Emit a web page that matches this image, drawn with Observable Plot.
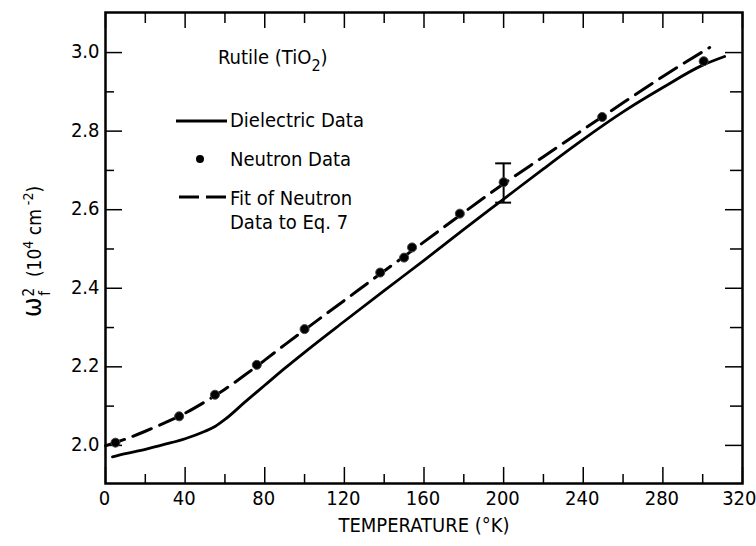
<!DOCTYPE html>
<html><head><meta charset="utf-8">
<script src="https://cdn.jsdelivr.net/npm/d3@7"></script>
<script src="https://cdn.jsdelivr.net/npm/@observablehq/plot@0.6"></script>
<style>
body{margin:0;background:#fff;}
</style></head><body><div id="chart"></div>
<script>
const FONT = '"Liberation Sans Narrow","DejaVu Sans Condensed",sans-serif';

// Dielectric data (solid curve)
const dielectricT = [3.5, 10, 20, 30, 40, 50, 55, 60, 70, 80, 90, 100, 120, 140, 160, 180, 200, 220, 240, 260, 280, 300, 311];
const dielectricW = [1.971, 1.979, 1.990, 2.003, 2.017, 2.036, 2.048, 2.066, 2.110, 2.153, 2.196, 2.237, 2.316, 2.394, 2.471, 2.550, 2.627, 2.704, 2.779, 2.849, 2.911, 2.968, 2.99];

// Neutron data (points)
const neutronT = [5, 37, 55, 76, 100, 138, 150, 154, 178, 200, 249.5, 300.5];
const neutronW = [2.007, 2.074, 2.129, 2.205, 2.296, 2.440, 2.478, 2.504, 2.590, 2.670, 2.836, 2.978];

// Fit of neutron data to Eq. 7 (dashed curve)
const fitT = [0, 10, 20, 30, 40, 50, 60, 70, 80, 90, 100, 120, 140, 160, 180, 200, 220, 240, 260, 280, 303.5];
const fitW = [1.999, 2.016, 2.036, 2.058, 2.082, 2.111, 2.143, 2.179, 2.217, 2.256, 2.294, 2.369, 2.444, 2.518, 2.593, 2.666, 2.735, 2.804, 2.872, 2.939, 3.013];

// Error bar
const errT = [200];
const errLow = [2.618];
const errHigh = [2.718];

// Ticks
const xMajorTicks = [0, 40, 80, 120, 160, 200, 240, 280, 320];
const xMinorTicks = [20, 60, 100, 140, 180, 220, 260, 300];
const yMajorTicks = [2.0, 2.2, 2.4, 2.6, 2.8, 3.0];
const yMinorTicks = [2.1, 2.3, 2.5, 2.7, 2.9];

const xLabel = "TEMPERATURE (°K)";
const legendItems = ["Dielectric Data", "Neutron Data", "Fit of Neutron", "Data to Eq. 7"];

const W = 756, H = 546, mt = 12, mb = 63, ml = 105, mr = 14;
const fw = W - ml - mr, fh = H - mt - mb;

const dielectric = dielectricT.map((t, i) => ({t, w: dielectricW[i]}));
const neutron = neutronT.map((t, i) => ({t, w: neutronW[i]}));
const fit = fitT.map((t, i) => ({t, w: fitW[i]}));
const err = errT.map((t, i) => ({t, lo: errLow[i], hi: errHigh[i]}));

const chart = Plot.plot({
  width: W, height: H,
  marginTop: mt, marginBottom: mb, marginLeft: ml, marginRight: mr,
  style: {fontFamily: FONT, fontSize: "20px", background: "white", color: "black"},
  x: {domain: [0, 320]},
  y: {domain: [1.903, 3.102]},
  marks: [
    Plot.axisX(xMajorTicks.slice(0, -1), {tickSize: 0, tickPadding: 7, label: null, fontSize: 20, dx: -1}),
    Plot.axisX(xMajorTicks.slice(-1), {tickSize: 0, tickPadding: 7, label: null, fontSize: 20, textAnchor: "end", dx: 14}),
    Plot.axisY({ticks: yMajorTicks, tickSize: 0, tickPadding: 6, label: null, tickFormat: d3.format(".1f"), fontSize: 20, dy: -1}),
    Plot.tickX(xMajorTicks, {x: d => d, insetTop: fh - 16, stroke: "black", strokeWidth: 1.5}),
    Plot.tickX(xMinorTicks, {x: d => d, insetTop: fh - 9, stroke: "black", strokeWidth: 1.5}),
    Plot.tickX(xMajorTicks, {x: d => d, insetBottom: fh - 16, stroke: "black", strokeWidth: 1.5}),
    Plot.tickX(xMinorTicks, {x: d => d, insetBottom: fh - 11, stroke: "black", strokeWidth: 1.5}),
    Plot.tickY(yMajorTicks, {y: d => d, insetRight: fw - 17, stroke: "black", strokeWidth: 1.5}),
    Plot.tickY(yMinorTicks, {y: d => d, insetRight: fw - 9, stroke: "black", strokeWidth: 1.5}),
    Plot.tickY(yMajorTicks, {y: d => d, insetLeft: fw - 17, stroke: "black", strokeWidth: 1.5}),
    Plot.tickY(yMinorTicks, {y: d => d, insetLeft: fw - 12, stroke: "black", strokeWidth: 1.5}),
    Plot.line(dielectric, {x: "t", y: "w", stroke: "black", strokeWidth: 2.8, curve: "monotone-x"}),
    Plot.line(fit, {x: "t", y: "w", stroke: "black", strokeWidth: 3, strokeDasharray: "20,9", curve: "monotone-x"}),
    Plot.ruleX(err, {x: "t", y1: "lo", y2: "hi", stroke: "black", strokeWidth: 2}),
    Plot.ruleY(err, {y: "lo", x1: d => d.t - 4, x2: d => d.t + 4, stroke: "black", strokeWidth: 2}),
    Plot.ruleY(err, {y: "hi", x1: d => d.t - 4, x2: d => d.t + 4, stroke: "black", strokeWidth: 2}),
    Plot.dot(neutron, {x: "t", y: "w", r: 4.5, fill: "black", stroke: "#444", strokeWidth: 1}),
    Plot.text([xLabel], {text: d => d, frameAnchor: "bottom", dy: 48, fontSize: 20, fill: "black"}),
    Plot.frame({stroke: "black", strokeWidth: 2.5})
  ]
});
document.getElementById("chart").appendChild(chart);

const svg = d3.select(chart);
// Y-axis label
const gy = svg.append("g").attr("transform", "translate(41,317) rotate(-90)");
const ty = gy.append("text").attr("font-family", FONT).attr("fill", "black").attr("text-anchor", "start");
ty.append("tspan").attr("font-size", 26).text("ω");
ty.append("tspan").attr("font-size", 15).attr("dx", 1).attr("dy", -7).text("2");
ty.append("tspan").attr("font-size", 15).attr("dx", -8).attr("dy", 16).text("f");
ty.append("tspan").attr("font-size", 19).attr("dx", 14).attr("dy", -9).text("(10");
ty.append("tspan").attr("font-size", 14).attr("dy", -8).text("4");
ty.append("tspan").attr("font-size", 19).attr("dy", 8).text(" cm");
ty.append("tspan").attr("font-size", 14).attr("dy", -8).text(" -2");
ty.append("tspan").attr("font-size", 19).attr("dy", 8).text(")");

// Title
const tt = svg.append("text").attr("x", 218).attr("y", 64).attr("font-family", FONT).attr("font-size", 20).attr("fill", "black").attr("text-anchor", "start");
tt.append("tspan").text("Rutile (TiO");
tt.append("tspan").attr("font-size", 16).attr("dy", 7).text("2");
tt.append("tspan").attr("dy", -7).text(")");

// Legend
svg.append("line").attr("x1", 176).attr("x2", 227).attr("y1", 121).attr("y2", 121).attr("stroke", "black").attr("stroke-width", 2.8);
svg.append("circle").attr("cx", 200).attr("cy", 159).attr("r", 4).attr("fill", "black");
svg.append("line").attr("x1", 179).attr("x2", 227).attr("y1", 197).attr("y2", 197).attr("stroke", "black").attr("stroke-width", 3).attr("stroke-dasharray", "20,7");
const ly = [127, 166, 205, 229];
legendItems.forEach((s, i) => {
  svg.append("text").attr("x", 230).attr("y", ly[i]).attr("font-family", FONT).attr("font-size", 20).attr("fill", "black").attr("text-anchor", "start").text(s);
});
</script></body></html>
